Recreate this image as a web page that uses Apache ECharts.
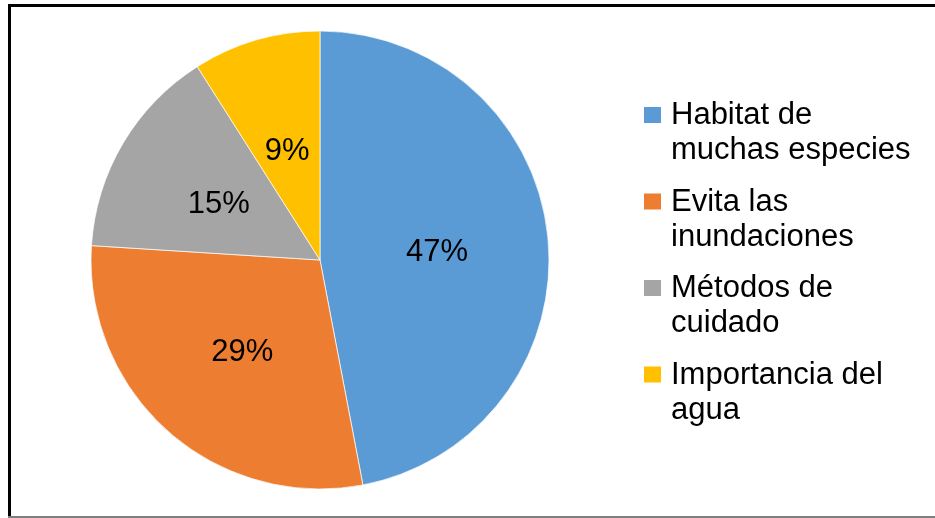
<!DOCTYPE html>
<html>
<head>
<meta charset="utf-8">
<script src="https://cdn.jsdelivr.net/npm/echarts@6/dist/echarts.min.js"></script>
<style>
  html, body { margin: 0; padding: 0; background: #fff; }
  #main { width: 935px; height: 518px; }
</style>
</head>
<body>
<div id="main"></div>
<script>
// datos del gráfico
const categorias = ['Habitat de\nmuchas especies', 'Evita las\ninundaciones', 'Métodos de\ncuidado', 'Importancia del\nagua'];
const valores = [47, 29, 15, 9];
const colores = ['#5B9BD5', '#ED7D31', '#A5A5A5', '#FFC000'];

let chartDom = document.getElementById('main');
let myChart = echarts.init(chartDom);

// icono de leyenda: cuadrado arriba, puntos invisibles para fijar el tamaño
const iconoLeyenda = 'path://M0,0L0.01,0M22,70L22.01,70M0,9L17,9L17,25L0,25Z';

let option = {
  animation: false,
  backgroundColor: '#fff',
  color: colores,
  legend: {
    orient: 'vertical',
    left: 644,
    top: 98,
    padding: 0,
    itemGap: 16.5,
    itemWidth: 22,
    itemHeight: 70,
    icon: iconoLeyenda,
    itemStyle: { borderWidth: 0 },
    textStyle: {
      fontFamily: 'Liberation Sans, Arial, sans-serif',
      fontSize: 31,
      lineHeight: 35,
      color: '#000'
    },
    data: categorias
  },
  graphic: [
    { type: 'rect', shape: { x: 8, y: 4, width: 927, height: 3 }, style: { fill: '#000' } },
    { type: 'rect', shape: { x: 8, y: 4, width: 3, height: 514 }, style: { fill: '#000' } },
    { type: 'rect', shape: { x: 8, y: 516, width: 927, height: 2 }, style: { fill: '#7f7f7f' } }
  ],
  series: [
    {
      type: 'pie',
      center: [320, 260],
      radius: 229,
      startAngle: 90,
      clockwise: true,
      avoidLabelOverlap: false,
      itemStyle: { borderColor: '#fff', borderWidth: 0.7 },
      label: {
        show: true,
        position: 'inside',
        formatter: '{d}%',
        color: '#000',
        fontFamily: 'Liberation Sans, Arial, sans-serif',
        fontSize: 31,
        offset: [0, 4]
      },
      labelLine: { show: false },
      emphasis: { disabled: true },
      data: categorias.map((c, i) => ({ name: c, value: valores[i] }))
    }
  ]
};

myChart.setOption(option);
</script>
</body>
</html>
